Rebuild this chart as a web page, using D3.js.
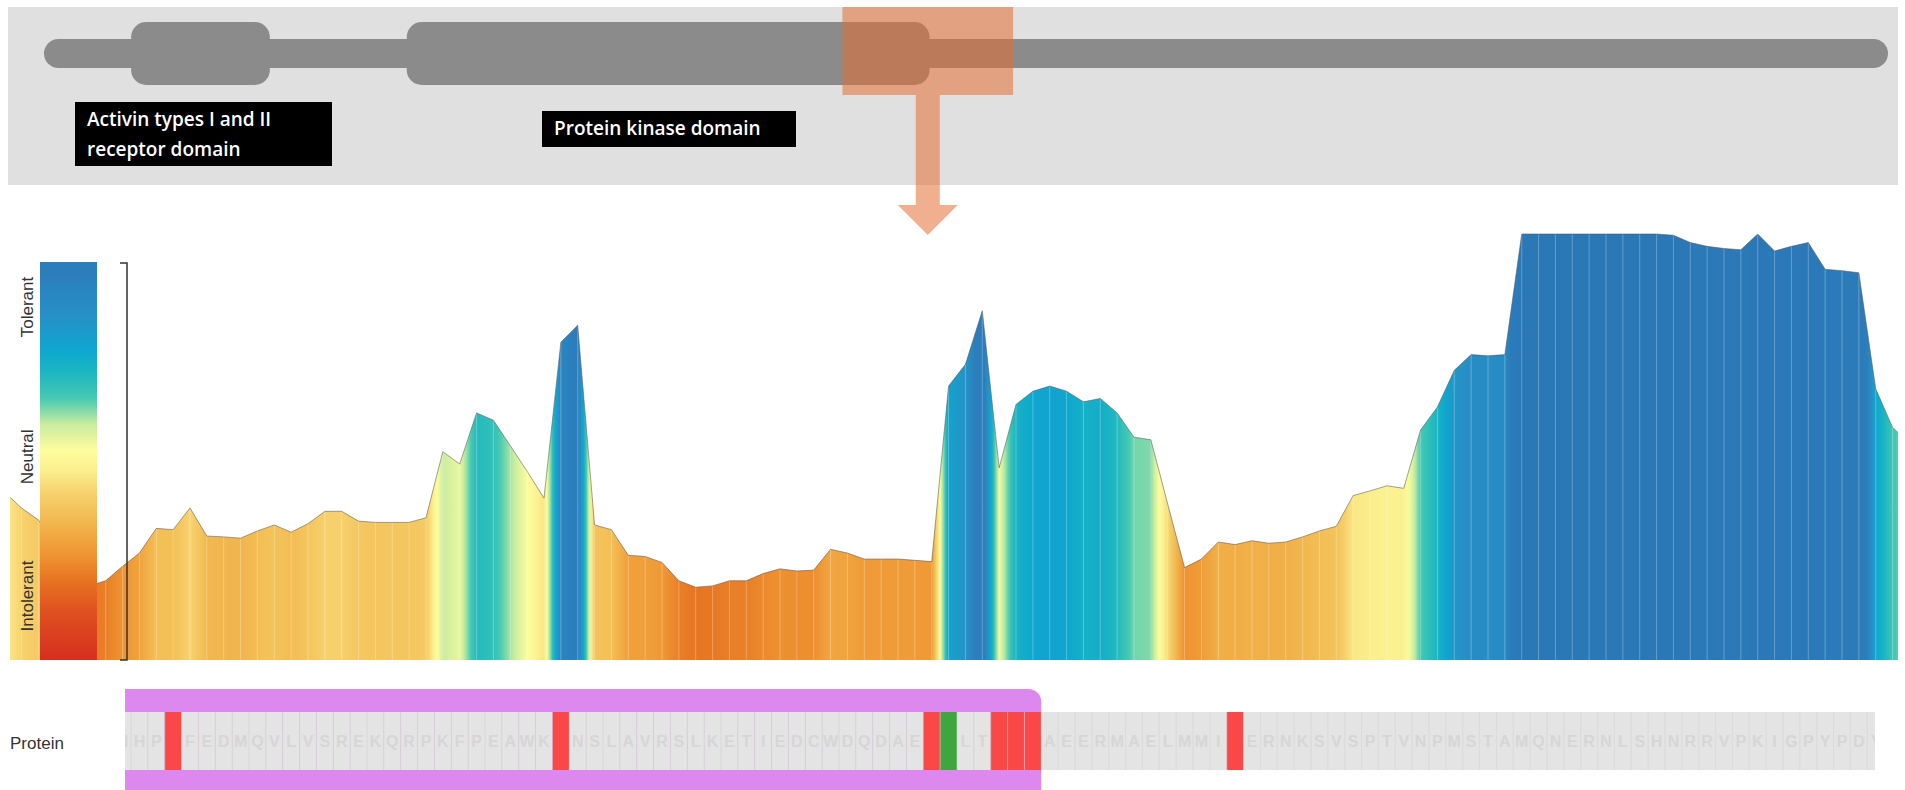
<!DOCTYPE html>
<html>
<head>
<meta charset="utf-8">
<script src="https://cdn.jsdelivr.net/npm/d3@7"></script>
<style>
  html, body { margin: 0; padding: 0; background: #ffffff; overflow: hidden; }
  svg { display: block; }
</style>
</head>
<body>
<svg id="chart" width="1905" height="790"></svg>
<script>
// ---- Protein overview (BMPR2) ----
const proteinLength = 1038;
const domainStarts = [50, 205];
const domainEnds = [128, 499];
const domainLabelLines = [["Activin types I and II", "receptor domain"], ["Protein kinase domain"]];
const windowRange = [450, 546];

// ---- Per-residue tolerance scores, residues 443..556 ----
const scoreStart = 443;
const toleranceScores = [
  0.394, 0.357, 0.329, 0.280, 0.223, 0.174, 0.186, 0.220, 0.251, 0.309,
  0.306, 0.357, 0.291, 0.289, 0.286, 0.303, 0.317, 0.300, 0.320, 0.349,
  0.349, 0.326, 0.323, 0.323, 0.323, 0.334, 0.489, 0.460, 0.580, 0.563,
  0.503, 0.443, 0.380, 0.746, 0.786, 0.317, 0.306, 0.246, 0.243, 0.229,
  0.186, 0.171, 0.174, 0.186, 0.186, 0.203, 0.214, 0.209, 0.211, 0.260,
  0.251, 0.237, 0.237, 0.237, 0.234, 0.231, 0.643, 0.694, 0.820, 0.451,
  0.600, 0.631, 0.643, 0.631, 0.606, 0.614, 0.580, 0.523, 0.517, 0.366,
  0.217, 0.237, 0.277, 0.271, 0.280, 0.274, 0.277, 0.289, 0.303, 0.314,
  0.386, 0.397, 0.409, 0.403, 0.540, 0.594, 0.680, 0.717, 0.714, 0.717,
  1.000, 1.000, 1.000, 1.000, 1.000, 1.000, 1.000, 1.000, 1.000, 0.997,
  0.980, 0.971, 0.966, 0.963, 1.000, 0.960, 0.971, 0.980, 0.917, 0.914,
  0.909, 0.637, 0.546, 0.509
];

// ---- Sequence track, residues 450..555 ----
const sequenceStart = 450;
const sequence = "NHPTFEDMQVLVSREKQRPKFPEAWKENSLAVRSLKETIEDCWDQDAEARLTAQCAEERMAELMMIWERNKSVSPTVNPMSTAMQNERNLSHNRRVPKIGPYPDY";
const intolerantSites = [453, 476, 498, 502, 503, 504, 516];
const tolerantSites = [499];
const kinaseEnd = 504;

// ---- Colour ramp (score -> colour) ----
const rampScores = [0.00, 0.10, 0.17, 0.22, 0.27, 0.31, 0.35, 0.40, 0.44, 0.49, 0.54, 0.59, 0.63, 0.70, 0.78, 1.00];
const rampColors = ["#d62f1f", "#df5020", "#e77522", "#ee9432", "#f1ac45", "#f3c158", "#f6d06c", "#fbef8e",
                    "#fdfd9e", "#c9eca0", "#45c9b2", "#1cb6c1", "#0ea7cf", "#2790c6", "#2b7dbb", "#2b78b7"];

// ---- Legend ----
const legendLabels = ["Intolerant", "Neutral", "Tolerant"];
const legendLabelScores = [0.135, 0.428, 0.714];
const legendScoreStops = [0, 0.42, 0.8];

const svg = d3.select("#chart");
const defs = svg.append("defs");
const color = d3.scaleLinear().domain(rampScores).range(rampColors).clamp(true);

// ================= Overview panel =================
const pScale = d3.scaleLinear().domain([1, proteinLength]).range([44, 1888]);

svg.append("rect").attr("x", 8).attr("y", 7).attr("width", 1890).attr("height", 178).attr("fill", "#e0e0e0");

svg.append("rect")
  .attr("x", pScale(1)).attr("y", 39)
  .attr("width", pScale(proteinLength) - pScale(1)).attr("height", 29)
  .attr("rx", 14.5).attr("fill", "#8b8b8b");

svg.selectAll("rect.domain")
  .data(domainStarts.map((s, i) => ({ s, e: domainEnds[i] })))
  .join("rect").attr("class", "domain")
  .attr("x", d => pScale(d.s)).attr("y", 22)
  .attr("width", d => pScale(d.e) - pScale(d.s)).attr("height", 63)
  .attr("rx", 15).attr("fill", "#8b8b8b");

// domain name tags
const tagBoxes = [{ x: 75, y: 102, w: 257, h: 64 }, { x: 542, y: 111, w: 254, h: 36 }];
tagBoxes.forEach((b, i) => {
  svg.append("rect").attr("x", b.x).attr("y", b.y).attr("width", b.w).attr("height", b.h).attr("fill", "#000");
  const t = svg.append("text")
    .attr("font-family", "'Open Sans', sans-serif").attr("font-weight", 600)
    .attr("font-size", 19).attr("fill", "#fff");
  domainLabelLines[i].forEach((line, j) => {
    t.append("tspan").attr("x", b.x + 12).attr("y", b.y + 24 + j * 30).text(line);
  });
});

// zoom window + arrow
const wx0 = pScale(windowRange[0]), wx1 = pScale(windowRange[1]);
const zoomFill = "rgb(228,112,52)";
svg.append("rect").attr("x", wx0).attr("y", 7).attr("width", wx1 - wx0).attr("height", 88)
  .attr("fill", zoomFill).attr("fill-opacity", 0.55);
const ax = (wx0 + wx1) / 2;
svg.append("path")
  .attr("d", `M${ax - 12},95 V205 H${ax - 30} L${ax},235 L${ax + 30},205 H${ax + 12} V95 Z`)
  .attr("fill", zoomFill).attr("fill-opacity", 0.55);

// ================= Tolerance landscape =================
const xRes = d3.scaleLinear().domain([444, 556]).range([13, 1901]);
const yScore = d3.scaleLinear().domain([0, 1]).range([660, 234]);
const points = toleranceScores.map((v, i) => ({ r: scoreStart + i, v }));

defs.append("clipPath").attr("id", "plotClip")
  .append("rect").attr("x", 10).attr("y", 200).attr("width", 1888).attr("height", 460);

// horizontal gradient following the score colour at each residue
const grad = defs.append("linearGradient").attr("id", "scoreGrad")
  .attr("gradientUnits", "userSpaceOnUse").attr("x1", 0).attr("y1", 0).attr("x2", 1905).attr("y2", 0);
for (let i = 0; i < points.length; i++) {
  const a = points[i], b = points[i + 1];
  const steps = b ? 6 : 1;
  for (let k = 0; k < steps; k++) {
    const f = k / steps;
    const xa = xRes(a.r + 0.5), xb = b ? xRes(b.r + 0.5) : xa;
    const x = xa + (xb - xa) * f;
    const v = b ? a.v + (b.v - a.v) * f : a.v;
    grad.append("stop").attr("offset", Math.max(0, Math.min(1, x / 1905))).attr("stop-color", color(v));
  }
}

const plot = svg.append("g").attr("clip-path", "url(#plotClip)");
const area = d3.area().x(d => xRes(d.r + 0.5)).y0(yScore(0)).y1(d => yScore(d.v));
const line = d3.line().x(d => xRes(d.r + 0.5)).y(d => yScore(d.v));

plot.append("path").datum(points).attr("d", area).attr("fill", "url(#scoreGrad)");
plot.selectAll("line.res").data(points).join("line").attr("class", "res")
  .attr("x1", d => xRes(d.r + 0.5)).attr("x2", d => xRes(d.r + 0.5))
  .attr("y1", yScore(0)).attr("y2", d => yScore(d.v))
  .attr("stroke", "#ffffff").attr("stroke-opacity", 0.28).attr("stroke-width", 1);
plot.append("path").datum(points).attr("d", line)
  .attr("fill", "none").attr("stroke", "#555").attr("stroke-opacity", 0.55).attr("stroke-width", 1);

// ================= Legend =================
const legendY = d3.scaleLinear().domain(legendScoreStops).range([660, 461, 262]);
const lg = defs.append("linearGradient").attr("id", "legendGrad")
  .attr("gradientUnits", "userSpaceOnUse").attr("x1", 0).attr("y1", 660).attr("x2", 0).attr("y2", 262);
rampScores.filter(s => s <= legendScoreStops[2]).concat([legendScoreStops[2]]).forEach(s => {
  lg.append("stop").attr("offset", (660 - legendY(s)) / (660 - 262)).attr("stop-color", color(s));
});
svg.append("rect").attr("x", 40).attr("y", 262).attr("width", 57).attr("height", 398).attr("fill", "url(#legendGrad)");

svg.selectAll("text.legend").data(legendLabels).join("text").attr("class", "legend")
  .attr("transform", (d, i) => `translate(33,${legendY(legendLabelScores[i])}) rotate(-90)`)
  .attr("text-anchor", "middle")
  .attr("font-family", "'Liberation Sans', Arial, sans-serif").attr("font-size", 17).attr("fill", "#333")
  .text(d => d);

svg.append("path").attr("d", "M120,263 H127 V660 H120")
  .attr("fill", "none").attr("stroke", "#333").attr("stroke-width", 1.5);

// ================= Sequence track =================
const trackTop = 712, trackH = 58;
defs.append("clipPath").attr("id", "hlClip").append("rect").attr("x", 125).attr("y", 680).attr("width", 1780).attr("height", 120);
defs.append("clipPath").attr("id", "trackClip").append("rect").attr("x", 125).attr("y", 700).attr("width", 1750).attr("height", 80);

svg.append("g").attr("clip-path", "url(#hlClip)")
  .append("rect").attr("x", 100).attr("y", 689)
  .attr("width", xRes(kinaseEnd + 1) - 100).attr("height", 120).attr("rx", 13)
  .attr("fill", "#dd88ee");

const residues = sequence.split("").map((aa, i) => ({ r: sequenceStart + i, aa }));
const track = svg.append("g").attr("clip-path", "url(#trackClip)");
const cellFill = d => intolerantSites.includes(d.r) ? "#fa4848" : tolerantSites.includes(d.r) ? "#3fa53f" : "#e4e4e4";

track.selectAll("rect.cell").data(residues).join("rect").attr("class", "cell")
  .attr("x", d => xRes(d.r)).attr("y", trackTop)
  .attr("width", d => xRes(d.r + 1) - xRes(d.r)).attr("height", trackH)
  .attr("fill", cellFill);
track.selectAll("line.div").data(residues).join("line").attr("class", "div")
  .attr("x1", d => xRes(d.r)).attr("x2", d => xRes(d.r))
  .attr("y1", trackTop).attr("y2", trackTop + trackH)
  .attr("stroke", "#cfcfcf").attr("stroke-opacity", 0.6).attr("stroke-width", 1);
track.selectAll("text.aa").data(residues.filter(d => cellFill(d) === "#e4e4e4")).join("text").attr("class", "aa")
  .attr("x", d => xRes(d.r + 0.5)).attr("y", trackTop + trackH / 2 + 6)
  .attr("text-anchor", "middle")
  .attr("font-family", "'Liberation Sans', Arial, sans-serif").attr("font-weight", 700)
  .attr("font-size", 16).attr("fill", "#d6d6d6")
  .text(d => d.aa);

svg.append("text").attr("x", 10).attr("y", 749)
  .attr("font-family", "'Liberation Sans', Arial, sans-serif").attr("font-size", 17).attr("fill", "#333")
  .text("Protein");
</script>
</body>
</html>
